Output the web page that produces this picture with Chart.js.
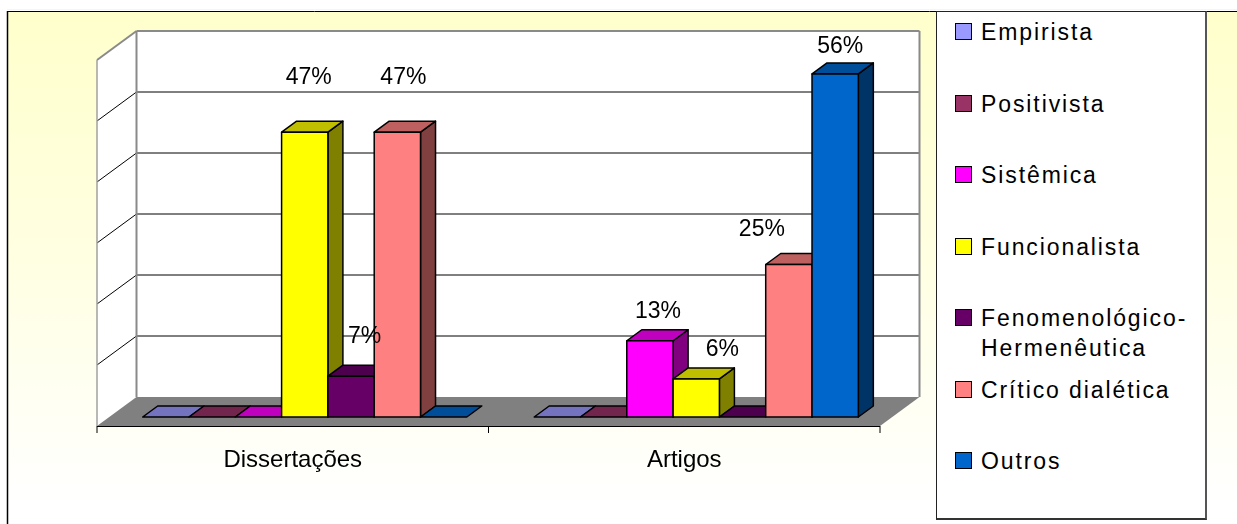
<!DOCTYPE html>
<html>
<head>
<meta charset="utf-8">
<script src="https://cdn.jsdelivr.net/npm/chart.js@4.4.1/dist/chart.umd.min.js"></script>
<style>
html,body{margin:0;padding:0;background:#fff;}
#wrap{position:relative;width:1237px;height:524px;overflow:hidden;}
#c{position:absolute;left:0;top:0;}
#legend{position:absolute;left:936px;top:11px;width:268px;height:506px;background:#fff;
  border:1px solid #222;border-right:2px solid #555;border-bottom:2px solid #333;
  font-family:"Liberation Sans",Arial,sans-serif;font-size:23px;letter-spacing:1.9px;color:#000;}
.item{position:absolute;left:18px;display:flex;align-items:flex-start;}
.box{width:15px;height:15px;border:1.5px solid #000;margin-top:6px;margin-right:9px;flex:none;}
.txt{white-space:pre-line;line-height:30px;}
</style>
</head>
<body>
<div id="wrap">
  <canvas id="c" width="1237" height="524"></canvas>
  <div id="legend"></div>
</div>
<script>
// ---- data ----
const categories = ['Dissertações', 'Artigos'];
const seriesNames = ['Empirista', 'Positivista', 'Sistêmica', 'Funcionalista',
  'Fenomenológico-Hermenêutica', 'Crítico dialética', 'Outros'];
const empirista      = [0, 0];
const positivista    = [0, 0];
const sistemica      = [0, 12.5];
const funcionalista  = [46.7, 6.25];
const fenomenologico = [6.7, 0];
const critico        = [46.7, 25];
const outros         = [0, 56.25];
const valueTicks = [0, 10, 20, 30, 40, 50, 60];

// ---- styles ----
const seriesColors = ['#9999FF', '#993366', '#FF00FF', '#FFFF00', '#660066', '#FF8080', '#0066CC'];
const seriesValues = [empirista, positivista, sistemica, funcionalista, fenomenologico, critico, outros];

const FONT = '"Liberation Sans", Arial, sans-serif';
const FRONT = {dx: -12, dy: 9};     // bar plane -> front floor edge
const BACK  = {dx: 27.5, dy: -20};  // bar plane -> back wall
const BARD  = {dx: 15, dy: -11};    // bar depth
const labelShift = {
  'Dissertações|Funcionalista': [4, -54],
  'Dissertações|Fenomenológico-Hermenêutica': [13.5, -39],
  'Dissertações|Crítico dialética': [6, -54],
  'Artigos|Sistêmica': [8, -29],
  'Artigos|Funcionalista': [26, -29],
  'Artigos|Crítico dialética': [-27, -34.5],
  'Artigos|Outros': [5, -27]
};
const defaultShift = [7, -28];
const target = {left: 109, right: 892, top: 51, bottom: 417};

function shade(hex, f) {
  const n = parseInt(hex.slice(1), 16);
  const r = Math.round(((n >> 16) & 255) * f), g = Math.round(((n >> 8) & 255) * f), b = Math.round((n & 255) * f);
  return 'rgb(' + r + ',' + g + ',' + b + ')';
}
function poly(ctx, pts, fill, stroke, lw) {
  ctx.beginPath();
  ctx.moveTo(pts[0][0], pts[0][1]);
  for (let i = 1; i < pts.length; i++) ctx.lineTo(pts[i][0], pts[i][1]);
  ctx.closePath();
  if (fill) { ctx.fillStyle = fill; ctx.fill(); }
  if (stroke) { ctx.strokeStyle = stroke; ctx.lineWidth = lw || 1; ctx.stroke(); }
}
function line(ctx, x1, y1, x2, y2, col, lw) {
  ctx.beginPath(); ctx.moveTo(x1, y1); ctx.lineTo(x2, y2);
  ctx.strokeStyle = col; ctx.lineWidth = lw; ctx.stroke();
}

const threeD = {
  id: 'threeD',
  beforeDraw(chart) {
    const ctx = chart.ctx;
    ctx.save();
    const g = ctx.createLinearGradient(0, 11, 0, 500);
    g.addColorStop(0, '#FFFFCC');
    g.addColorStop(0.5, '#FFFFE2');
    g.addColorStop(1, '#FFFFFF');
    ctx.fillStyle = g;
    ctx.fillRect(7, 11, chart.width - 7, chart.height - 11);
    line(ctx, 7, 9.5, chart.width, 9.5, '#FFFFAA', 1);
    line(ctx, 7, 11.5, chart.width, 11.5, '#000', 1);
    line(ctx, 7.5, 11, 7.5, chart.height, '#000', 1.5);
    ctx.restore();
  },
  beforeDatasetsDraw(chart) {
    const ctx = chart.ctx, ca = chart.chartArea;
    const xs = chart.scales.x, ys = chart.scales.y;
    const fl = ca.left + FRONT.dx, fr = ca.right + FRONT.dx, fb = ca.bottom + FRONT.dy, ft = ca.top + FRONT.dy;
    const bl = ca.left + BACK.dx, br = ca.right + BACK.dx, bb = ca.bottom + BACK.dy, bt = ca.top + BACK.dy;
    ctx.save();
    ctx.fillStyle = '#fff';
    ctx.fillRect(bl, bt, br - bl, bb - bt);
    poly(ctx, [[fl, ft], [bl, bt], [bl, bb], [fl, fb]], '#fff');
    poly(ctx, [[fl, fb], [bl, bb], [br, bb], [fr, fb]], '#808080');
    valueTicks.forEach(v => {
      if (v === valueTicks[0] || v === valueTicks[valueTicks.length - 1]) return;
      const y = ys.getPixelForValue(v);
      line(ctx, bl, y + BACK.dy, br, y + BACK.dy, '#000', 1);
      line(ctx, fl, y + FRONT.dy, bl, y + BACK.dy, '#000', 1);
    });
    const gc = '#8a8a8a';
    line(ctx, bl, bt, br, bt, gc, 2);
    line(ctx, br, bt, br, bb, gc, 2);
    line(ctx, bl, bt, bl, bb, gc, 2);
    line(ctx, fl, ft, bl, bt, gc, 2);
    line(ctx, fl, ft, fl, fb, '#a0a0a0', 1.5);
    line(ctx, fl, fb + 0.5, fr, fb + 0.5, '#000', 1);
    for (let i = 0; i <= categories.length; i++) {
      const x = xs.getPixelForValue(i - 0.5) + FRONT.dx;
      line(ctx, x, fb, x, fb + 7, '#000', 1);
    }
    ctx.restore();
  },
  afterDatasetsDraw(chart) {
    const ctx = chart.ctx, ys = chart.scales.y;
    // collect bars and paint them left to right as 3D boxes
    const bars = [];
    chart.data.datasets.forEach((ds, di) => {
      const meta = chart.getDatasetMeta(di);
      meta.data.forEach((el, ci) => bars.push({el, di, ci, v: ds.data[ci]}));
    });
    bars.sort((a, b) => a.el.x - b.el.x);
    ctx.save();
    ctx.lineJoin = 'round';
    bars.forEach(bar => {
      const p = bar.el.getProps(['x', 'y', 'base', 'width'], true);
      const col = seriesColors[bar.di];
      const l = p.x - p.width / 2, r = p.x + p.width / 2, y = p.y, b = p.base;
      const h = b - y;
      if (h > 0.5) {
        poly(ctx, [[r, y], [r + BARD.dx, y + BARD.dy], [r + BARD.dx, b + BARD.dy], [r, b]], shade(col, 0.5), '#000', 1.5);
      }
      poly(ctx, [[l, y], [l + BARD.dx, y + BARD.dy], [r + BARD.dx, y + BARD.dy], [r, y]], shade(col, 0.75), '#000', 1.5);
      if (h > 0.5) {
        poly(ctx, [[l, y], [r, y], [r, b], [l, b]], col, '#000', 1.5);
      }
    });
    // value labels
    ctx.font = '23px ' + FONT;
    ctx.fillStyle = '#000';
    ctx.textAlign = 'center';
    ctx.textBaseline = 'middle';
    bars.forEach(bar => {
      if (!bar.v) return;
      const s = labelShift[categories[bar.ci] + '|' + seriesNames[bar.di]] || defaultShift;
      ctx.fillText(Math.round(bar.v) + '%', bar.el.x + s[0], ys.getPixelForValue(bar.v) + s[1]);
    });
    ctx.restore();
  }
};

const chart = new Chart(document.getElementById('c').getContext('2d'), {
  type: 'bar',
  data: {
    labels: categories,
    datasets: seriesNames.map((n, i) => ({
      label: n,
      data: seriesValues[i],
      backgroundColor: seriesColors[i],
      borderWidth: 0,
      clip: false,
      categoryPercentage: 0.828,
      barPercentage: 1
    }))
  },
  options: {
    responsive: false,
    animation: false,
    devicePixelRatio: 1,
    layout: {padding: {left: 109, right: 345, top: 51, bottom: 49}},
    scales: {
      x: {
        grid: {display: false, drawTicks: false},
        border: {display: false},
        ticks: {font: {family: FONT, size: 24}, color: '#000', padding: 29, labelOffset: -12, maxRotation: 0}
      },
      y: {display: false, min: valueTicks[0], max: valueTicks[valueTicks.length - 1], ticks: {stepSize: 10}}
    },
    plugins: {legend: {display: false}, tooltip: {enabled: false}}
  },
  plugins: [threeD]
});

for (let k = 0; k < 3; k++) {
  const a = chart.chartArea;
  const p = chart.config.options.layout.padding;
  chart.config.options.layout.padding = {
    left: p.left + (target.left - a.left),
    right: p.right + (a.right - target.right),
    top: p.top + (target.top - a.top),
    bottom: p.bottom + (a.bottom - target.bottom)
  };
  chart.update('none');
}

// HTML legend
const lg = document.getElementById('legend');
seriesNames.forEach((n, i) => {
  const it = document.createElement('div');
  it.className = 'item';
  it.style.top = (5 + 71.5 * i) + 'px';
  const bx = document.createElement('div');
  bx.className = 'box';
  bx.style.background = seriesColors[i];
  const tx = document.createElement('div');
  tx.className = 'txt';
  tx.textContent = n.replace('-', '-\n');
  it.appendChild(bx); it.appendChild(tx);
  lg.appendChild(it);
});
</script>
</body>
</html>
